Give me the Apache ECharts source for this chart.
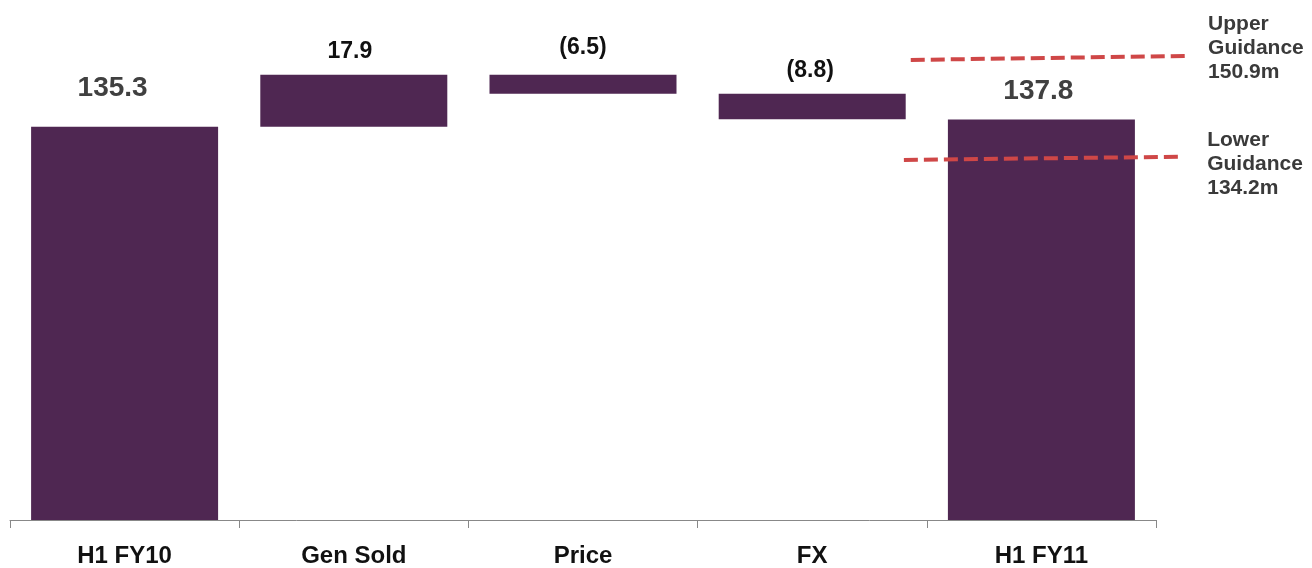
<!DOCTYPE html>
<html>
<head>
<meta charset="utf-8">
<script src="https://cdn.jsdelivr.net/npm/echarts@6/dist/echarts.min.js"></script>
<style>
html,body{margin:0;padding:0;background:#fff;}
#chart{width:1312px;height:568px;}
</style>
</head>
<body>
<div id="chart"></div>
<script>
// ---- data ----
const categories = ['H1 FY10', 'Gen Sold', 'Price', 'FX', 'H1 FY11'];
const changes = [135.3, 17.9, -6.5, -8.8, 137.8];   // first/last are totals
const isTotal = [true, false, false, false, true];
const valueLabels = ['135.3', '17.9', '(6.5)', '(8.8)', '137.8'];
// guidance dashed lines, drawn as short sloped segments: [x (category units), y (value)]
const upperGuidance = [[3.43, 158.3], [4.64, 159.7]];
const lowerGuidance = [[3.40, 123.9], [4.61, 125.0]];
const upperText = 'Upper\nGuidance\n150.9m';
const lowerText = 'Lower\nGuidance\n134.2m';

// ---- build waterfall ----
const baseVals = [], barVals = [];
let running = 0;
changes.forEach((v, i) => {
  if (isTotal[i]) { baseVals.push(0); barVals.push(v); running = v; }
  else if (v >= 0) { baseVals.push(running); barVals.push(v); running += v; }
  else { running += v; baseVals.push(running); barVals.push(-v); }
});

const FONT = '"Liberation Sans", Arial, sans-serif';
const labelStyles = [
  {fontSize: 28, color: '#404040', distance: 25, offset: [-12, 0]},
  {fontSize: 23, color: '#111', distance: 12, offset: [-4, 0]},
  {fontSize: 23, color: '#111', distance: 16, offset: [0, 0]},
  {fontSize: 23, color: '#111', distance: 11, offset: [-2, 0]},
  {fontSize: 28, color: '#404040', distance: 14, offset: [-3, 0]}
];

const chart = echarts.init(document.getElementById('chart'), null, {renderer: 'canvas'});
const barColor = '#4f2752';
const guideColor = '#cf4747';

// main plot geometry: 5 category bands across the grid
const W = 1312;
const gridLeft = 10, gridRight = 156, gridTop = 55, gridBottom = 48;
const bandW = (W - gridLeft - gridRight) / categories.length;
// overlay grid reaches the right edge, same unit scale as the category bands
const overlayMax = -0.5 + (W - gridLeft) / bandW;

function guideSeries(points, text, off) {
  return {
    type: 'line', xAxisIndex: 1, yAxisIndex: 1, clip: false, silent: true,
    symbol: 'circle', symbolSize: 0, showSymbol: true, animation: false,
    itemStyle: {color: guideColor, opacity: 0},
    lineStyle: {color: guideColor, width: 4, type: [14, 6]},
    data: points.map((p, i) => ({
      value: p,
      label: i === points.length - 1 ? {
        show: true, position: 'right', formatter: text, offset: off,
        fontFamily: FONT, fontWeight: 'bold', fontSize: 21, lineHeight: 24,
        color: '#3a3a3a', align: 'left', opacity: 1
      } : {show: false}
    }))
  };
}

chart.setOption({
  animation: false,
  backgroundColor: '#fff',
  grid: [
    {left: gridLeft, right: gridRight, top: gridTop, bottom: gridBottom, containLabel: false},
    {left: gridLeft, right: 0, top: gridTop, bottom: gridBottom, containLabel: false}
  ],
  xAxis: [{
    type: 'category', data: categories, boundaryGap: true, gridIndex: 0,
    axisLine: {show: true, lineStyle: {color: '#888', width: 1}},
    axisTick: {show: true, length: 8, lineStyle: {color: '#888'}},
    axisLabel: {fontFamily: FONT, fontWeight: 'bold', fontSize: 24, color: '#111', margin: 24},
    splitLine: {show: false}
  }, {
    type: 'value', gridIndex: 1, min: -0.5, max: overlayMax, show: false
  }],
  yAxis: [
    {type: 'value', gridIndex: 0, min: 0, max: 160, show: false, splitLine: {show: false}},
    {type: 'value', gridIndex: 1, min: 0, max: 160, show: false, splitLine: {show: false}}
  ],
  series: [
    {
      type: 'bar', stack: 'w', barWidth: 187, silent: true,
      itemStyle: {color: 'transparent'}, data: baseVals
    },
    {
      type: 'bar', stack: 'w', barWidth: 187, silent: true,
      itemStyle: {color: barColor},
      data: barVals.map((v, i) => ({
        value: v,
        label: {
          show: true, position: 'top', formatter: valueLabels[i],
          fontFamily: FONT, fontWeight: 'bold',
          fontSize: labelStyles[i].fontSize, color: labelStyles[i].color,
          distance: labelStyles[i].distance, offset: labelStyles[i].offset
        }
      }))
    },
    guideSeries(upperGuidance, upperText, [15, -8]),
    guideSeries(lowerGuidance, lowerText, [21, 7])
  ]
});
</script>
</body>
</html>
